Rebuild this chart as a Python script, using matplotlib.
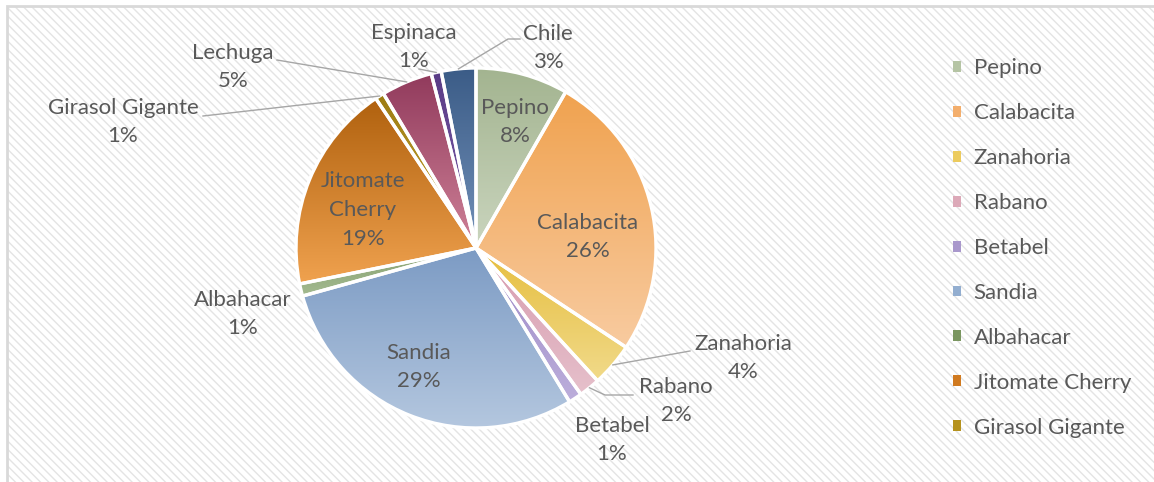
import matplotlib
matplotlib.use("Agg")
import matplotlib.pyplot as plt
import numpy as np
from matplotlib.patches import Rectangle
from matplotlib.colors import to_rgb

# ---------------- data ----------------
categories = ["Pepino", "Calabacita", "Zanahoria", "Rabano", "Betabel", "Sandia",
              "Albahacar", "Jitomate Cherry", "Girasol Gigante", "Lechuga",
              "Espinaca", "Chile"]
shares = [8.3, 26.0, 3.9, 1.9, 1.2, 29.4, 1.1, 18.8, 0.8, 4.6, 0.9, 3.1]
legend_categories = categories[:9]

# ---------------- styles ----------------
top_colors = ["#A3B490", "#F0A24F", "#E6BE3E", "#D69AAE", "#9C88C6", "#7C9BC4",
              "#86A06F", "#B0610E", "#9C7C12", "#913A5C", "#5A3C86", "#3B5C87"]
bottom_colors = ["#CAD5BE", "#F8CBA0", "#F1DA8A", "#E6C0CB", "#BCAEDB", "#B4C7DF",
                 "#A3BA90", "#F0A24F", "#C9A535", "#CF8298", "#7C5EAA", "#7290B8"]
legend_colors = ["#B5C4A4", "#F3AE6C", "#ECCB5E", "#DCA9B8", "#A998CC", "#93AED0",
                 "#7A9660", "#D07A20", "#B5921E"]
text_color = "#595959"
FONT = ["Lato", "DejaVu Sans"]
FS = 16

W, H = 1154, 482
fig = plt.figure(figsize=(W / 100, H / 100), dpi=100)
ax = fig.add_axes([0, 0, 1, 1])


def Y(y):
    return H - y


# background with diagonal stripes
plt.rcParams["hatch.linewidth"] = 1.0
bg = Rectangle((7, -5), W, H - 6 + 5, facecolor="white", edgecolor="#E4E4E4",
               hatch="\\\\\\\\", linewidth=0, zorder=0)
ax.add_patch(bg)
ax.plot([7, 7, W + 5], [-5, Y(6), Y(6)], color="#D9D9D9", lw=2.0, zorder=0.5,
        solid_joinstyle="miter")

# pie
cx, cy, R = 476, Y(248), 180
wedges, _ = ax.pie(shares, startangle=90, counterclock=False, center=(cx, cy),
                   radius=R, frame=True,
                   wedgeprops=dict(edgecolor="white", linewidth=2.4))

for w, c1, c2 in zip(wedges, top_colors, bottom_colors):
    ext = w.get_path().get_extents()
    t = np.linspace(0, 1, 256)[:, None]
    a, b = np.array(to_rgb(c1)), np.array(to_rgb(c2))
    grad = (a[None, :] * (1 - t) + b[None, :] * t)[:, None, :]
    im = ax.imshow(grad, extent=(ext.x0, ext.x1, ext.y0, ext.y1), origin="upper",
                   aspect="auto", interpolation="bilinear", zorder=1.5)
    im.set_clip_path(w)
    w.set_facecolor("none")
    w.set_zorder(2)

# labels (image pixel positions)
label_pos = {
    "Pepino": (515, 122), "Calabacita": (588, 237), "Sandia": (419, 367),
    "Jitomate Cherry": (363, 210), "Chile": (548, 48), "Espinaca": (414, 47),
    "Lechuga": (233, 67), "Girasol Gigante": (123, 122), "Albahacar": (243, 314),
    "Zanahoria": (743, 358), "Rabano": (676, 401), "Betabel": (612, 440),
}
for name, s in zip(categories, shares):
    x, y = label_pos[name]
    shown = name.replace(" ", "\n") if name == "Jitomate Cherry" else name
    ax.text(x, Y(y), f"{shown}\n{round(s):.0f}%", ha="center", va="center",
            color=text_color, fontsize=FS, family=FONT, linespacing=1.55, zorder=4)

# leader lines (end points in image pixels)
leaders = {
    "Chile": [(508, 39), (520, 39)],
    "Espinaca": [(419, 69)],
    "Lechuga": [(277, 60)],
    "Girasol Gigante": [(203, 116)],
    "Zanahoria": [(690, 351)],
    "Rabano": [(605, 395), (633, 395)],
}
for name, pts in leaders.items():
    w = wedges[categories.index(name)]
    mid = np.deg2rad((w.theta1 + w.theta2) / 2)
    xs = [cx + R * np.cos(mid)] + [p[0] for p in pts]
    ys = [cy + R * np.sin(mid)] + [Y(p[1]) for p in pts]
    ax.plot(xs, ys, color="#A6A6A6", lw=1.0, zorder=3)

# legend
handles = [Rectangle((0, 0), 1, 1, facecolor=c, edgecolor="none") for c in legend_colors]
leg = ax.legend(handles, legend_categories, loc="upper left",
                bbox_to_anchor=(953, Y(58.5)), bbox_transform=ax.transData,
                frameon=False, borderpad=0, borderaxespad=0,
                handlelength=0.38, handleheight=0.38, handletextpad=0.55,
                labelspacing=1.12, prop=dict(family=FONT, size=FS))
for t in leg.get_texts():
    t.set_color(text_color)

ax.set_xlim(0, W)
ax.set_ylim(0, H)
ax.set_aspect("auto")
ax.axis("off")
fig.savefig("out.png", dpi=100)
